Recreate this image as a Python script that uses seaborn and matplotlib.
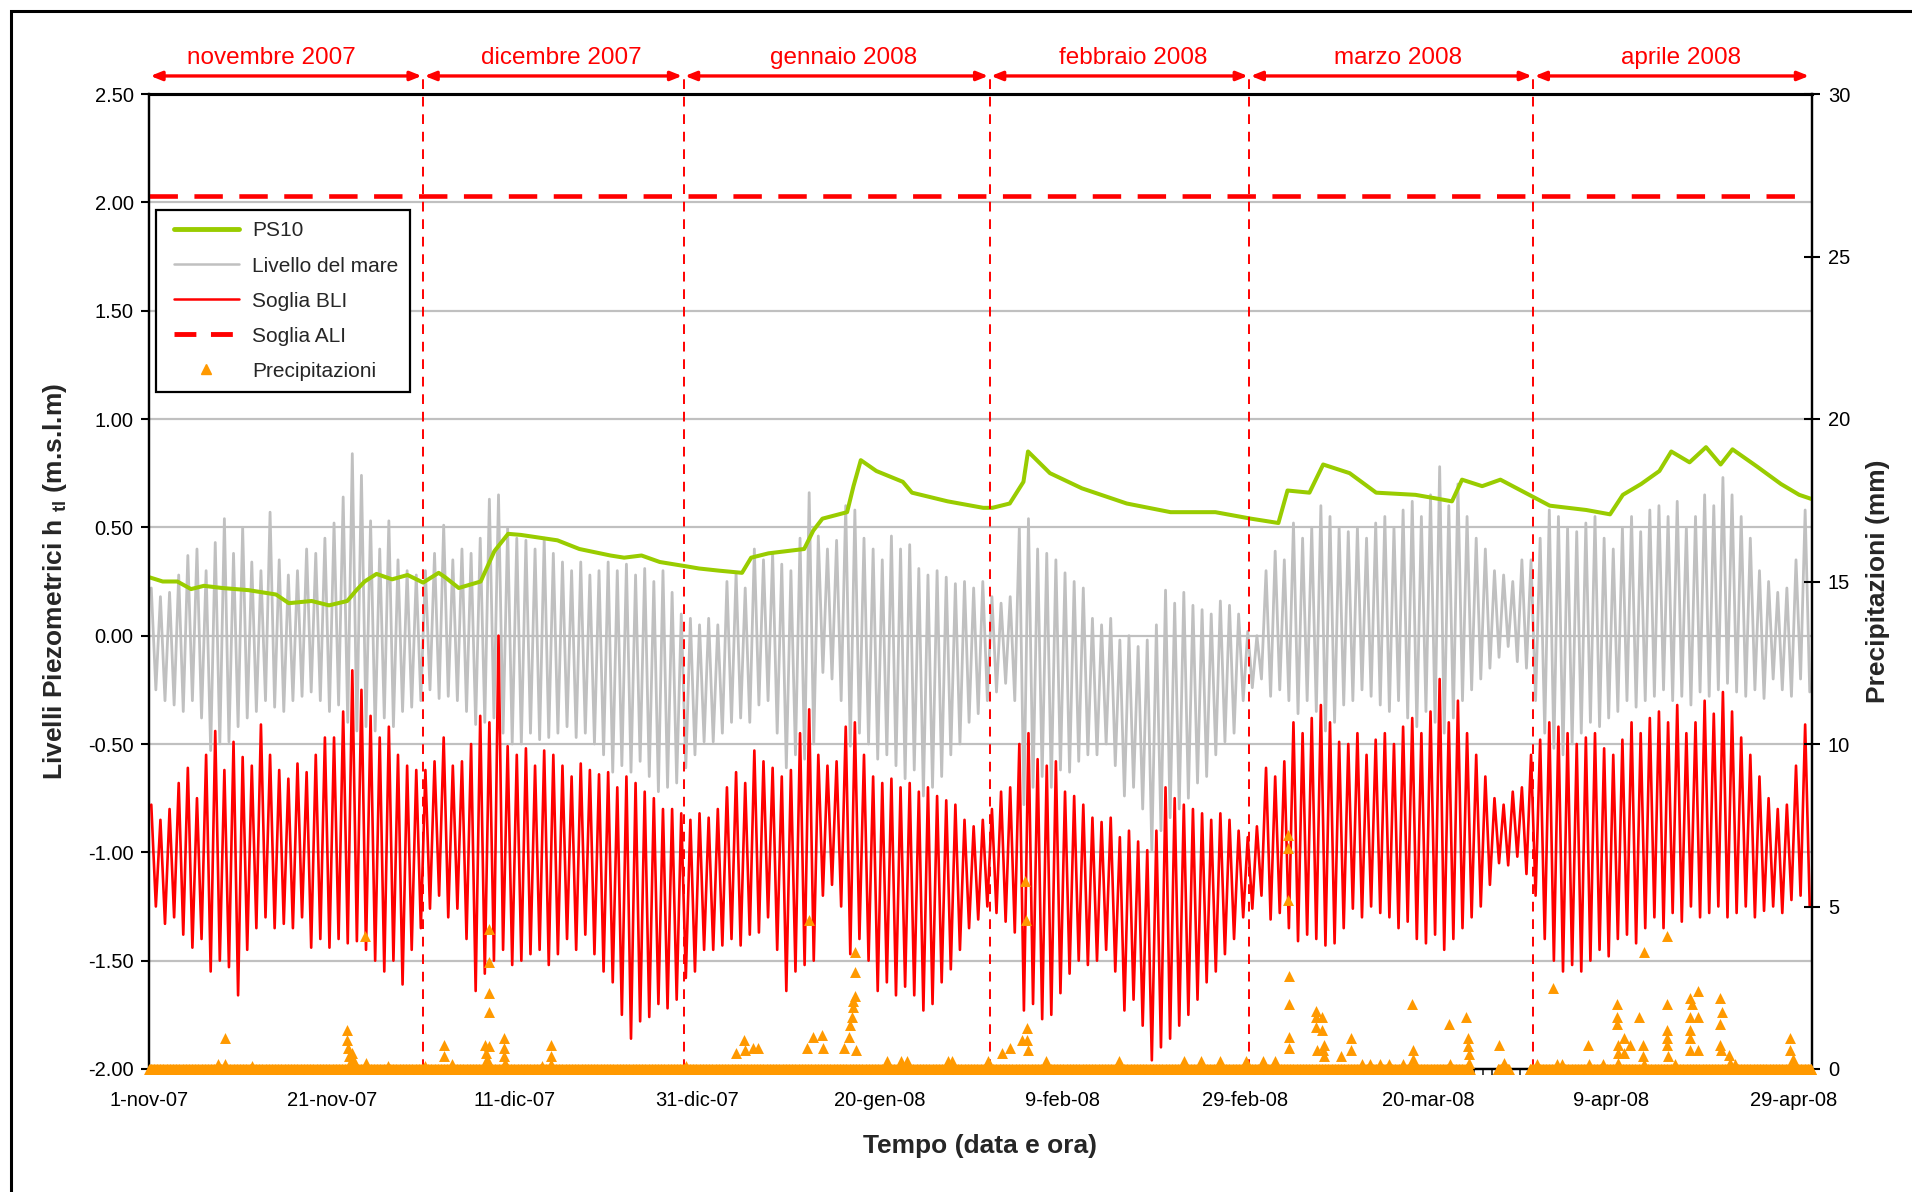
import numpy as np
import pandas as pd
import matplotlib
matplotlib.use("Agg")
import matplotlib.pyplot as plt
import matplotlib.dates as mdates
import seaborn as sns
from matplotlib.lines import Line2D
from matplotlib.legend_handler import HandlerLine2D
from matplotlib.patches import Rectangle

# ---------------- data ----------------
START = "2007-11-01"
END_DAYS = 182  # axis spans 1-nov-07 .. 1-may-08

tick_dates = ["2007-11-01", "2007-11-21", "2007-12-11", "2007-12-31", "2008-01-20",
              "2008-02-09", "2008-02-29", "2008-03-20", "2008-04-09", "2008-04-29"]
tick_labels = ["1-nov-07", "21-nov-07", "11-dic-07", "31-dic-07", "20-gen-08",
               "9-feb-08", "29-feb-08", "20-mar-08", "9-apr-08", "29-apr-08"]

month_names = ["novembre 2007", "dicembre 2007", "gennaio 2008",
               "febbraio 2008", "marzo 2008", "aprile 2008"]
# month separators as drawn on the chart
month_bounds = ["2007-11-01 00:00", "2007-12-01 00:00", "2007-12-29 12:00", "2008-02-01 00:00",
                "2008-02-29 10:00", "2008-03-31 12:00", "2008-04-30 20:00"]
# where each month name is centred (day since 1-nov-07)
month_label_days = [13.4, 45.1, 76.0, 107.7, 136.7, 167.7]

soglia_ali = 2.03

# PS10 piezometric level: (day since 1-nov-07, m s.l.m.)
ps10_day = [0, 1.5, 3.1, 4.6, 6, 8, 10.9, 13.9, 15.3, 17.8, 19.7, 21.7, 22.7, 23.6, 24.9,
            26.6, 28.3, 30, 31.7, 32.4, 33.9, 36.3, 37.8, 39.3, 40.7, 44.7, 47.1, 50.5, 52,
            53.9, 55.9, 58.8, 60.2, 62.4, 64.9, 65.9, 67.8, 71.7, 72.7, 73.7, 76.4, 77.1,
            77.9, 79.6, 82.5, 83.5, 87.4, 91.3, 92.3, 94.2, 95.7, 96.2, 98.6, 102.1, 107,
            111.8, 116.7, 120.6, 123.6, 124.6, 127, 128.5, 131.4, 134.3, 138.6, 141.3,
            142.6, 143.7, 145.9, 147.9, 150.6, 153.3, 157.3, 159.9, 161.3, 163.3, 165.3,
            166.6, 168.6, 170.4, 172, 173.3, 176, 178.6, 180.6, 182]
ps10_val = [0.27, 0.25, 0.25, 0.215, 0.23, 0.22, 0.21, 0.19, 0.15, 0.16, 0.14, 0.16, 0.21,
            0.25, 0.285, 0.26, 0.28, 0.245, 0.29, 0.27, 0.22, 0.25, 0.39, 0.47, 0.465, 0.44,
            0.40, 0.37, 0.36, 0.37, 0.34, 0.32, 0.31, 0.30, 0.29, 0.36, 0.38, 0.40, 0.485,
            0.54, 0.57, 0.69, 0.81, 0.76, 0.71, 0.66, 0.62, 0.59, 0.59, 0.61, 0.71, 0.85,
            0.75, 0.68, 0.61, 0.57, 0.57, 0.54, 0.52, 0.67, 0.66, 0.79, 0.75, 0.66, 0.65,
            0.63, 0.62, 0.72, 0.69, 0.72, 0.66, 0.60, 0.58, 0.56, 0.65, 0.70, 0.76, 0.85,
            0.80, 0.87, 0.79, 0.86, 0.78, 0.70, 0.65, 0.63]

# Sea level: daily high / low (cm), one value per day from 1-nov-07
sea_hi_cm = [22, 18, 20, 28, 37, 40, 30, 43, 54, 38, 50, 34, 30, 57, 35, 28, 30, 40, 38, 45,
             52, 64, 84, 74, 53, 40, 53, 35, 30, 28,
             30, 38, 51, 35, 40, 38, 45, 63, 65, 50, 45, 44, 40, 45, 38, 34, 30, 34, 28, 30,
             34, 30, 33, 28, 31, 25, 30, 20, 10, 8, 5,
             8, 5, 25, 29, 22, 40, 35, 38, 33, 30, 45, 66, 46, 40, 44, 60, 58, 45, 40, 35,
             46, 40, 42, 31, 28, 30, 27, 24, 25, 22, 25,
             18, 15, 18, 50, 54, 40, 38, 35, 29, 25, 22, 8, 5, 8, -2, 0, -5, -2, 5, 21,
             15, 20, 14, 12, 10, 16, 14, 10, 2,
             0, 30, 39, 35, 52, 45, 50, 60, 55, 50, 48, 50, 45, 52, 55, 50, 58, 62, 55, 65,
             78, 60, 70, 55, 45, 40, 30, 28, 25, 35, 35,
             45, 58, 55, 50, 48, 52, 55, 45, 40, 50, 55, 48, 58, 60, 55, 62, 50, 55, 65, 60,
             73, 65, 55, 45, 30, 25, 20, 22, 35, 58]
sea_lo_cm = [-25, -30, -32, -35, -30, -38, -53, -50, -49, -42, -38, -35, -30, -33, -35, -30,
             -28, -26, -30, -35, -32, -40, -44, -42, -44, -38, -42, -35, -33, -30,
             -25, -29, -28, -30, -35, -41, -40, -38, -45, -50, -50, -45, -48, -47, -45, -42,
             -47, -45, -50, -55, -63, -60, -63, -58, -65, -72, -70, -68, -61, -55, -49,
             -49, -45, -40, -38, -40, -32, -30, -45, -61, -55, -57, -50, -17, -20, -30, -51,
             -45, -50, -57, -55, -60, -66, -62, -74, -70, -65, -55, -50, -40, -36, -30,
             -26, -22, -30, -78, -70, -65, -70, -62, -63, -58, -55, -55, -50, -60, -74, -70,
             -80, -99, -90, -84, -80, -75, -68, -65, -55, -49, -45, -30, -24,
             -20, -28, -25, -30, -36, -30, -35, -44, -40, -32, -30, -25, -28, -32, -35, -30,
             -38, -42, -35, -40, -45, -38, -30, -25, -20, -15, -10, -5, -12, -15, -30,
             -45, -52, -55, -50, -45, -40, -42, -38, -35, -30, -33, -30, -28, -25, -30, -28,
             -32, -26, -28, -25, -22, -26, -28, -25, -29, -20, -25, -28, -20, -26]

# Soglia BLI: daily high / low (cm)
bli_hi_cm = [-78, -85, -80, -68, -61, -75, -55, -44, -62, -49, -56, -60, -41, -55, -62, -66,
             -59, -63, -55, -47, -47, -35, -16, -25, -37, -47, -42, -55, -60, -62,
             -62, -58, -47, -60, -58, -50, -37, -40, 0, -51, -55, -52, -60, -53, -55, -60,
             -65, -59, -62, -64, -63, -70, -65, -68, -72, -75, -80, -80, -82, -85, -82,
             -84, -80, -70, -63, -68, -53, -58, -61, -65, -62, -45, -34, -55, -60, -58, -42,
             -40, -55, -65, -68, -66, -70, -68, -72, -70, -74, -76, -78, -85, -88, -85,
             -80, -72, -70, -50, -45, -57, -60, -58, -72, -74, -78, -84, -86, -84, -93, -90,
             -95, -99, -90, -70, -75, -78, -80, -82, -85, -82, -85, -90, -93,
             -88, -61, -65, -58, -40, -45, -38, -32, -40, -49, -50, -45, -55, -48, -45, -50,
             -42, -38, -45, -35, -20, -40, -30, -45, -55, -65, -75, -78, -72, -70, -55,
             -48, -40, -42, -45, -50, -47, -45, -52, -55, -48, -40, -45, -38, -35, -40, -32,
             -45, -40, -30, -36, -26, -35, -47, -55, -65, -75, -80, -78, -60, -41]
bli_lo_cm = [-125, -133, -130, -138, -144, -140, -155, -150, -153, -166, -145, -135, -130,
             -135, -133, -135, -130, -144, -140, -144, -140, -142, -141, -145, -150, -155,
             -150, -161, -145, -135,
             -126, -120, -130, -126, -140, -164, -156, -150, -145, -152, -150, -147, -145,
             -152, -147, -140, -145, -138, -147, -155, -160, -175, -186, -178, -176, -170,
             -172, -168, -158, -155, -145,
             -145, -143, -140, -143, -138, -137, -130, -145, -164, -155, -152, -150, -120,
             -115, -125, -147, -140, -150, -164, -160, -166, -162, -166, -173, -170, -160,
             -154, -145, -135, -131, -125,
             -128, -132, -137, -173, -170, -177, -175, -165, -156, -150, -152, -150, -145,
             -155, -173, -168, -180, -196, -190, -186, -180, -175, -168, -160, -155, -147,
             -140, -130, -126,
             -120, -131, -128, -135, -141, -138, -140, -143, -142, -135, -126, -130, -125,
             -128, -130, -135, -132, -140, -142, -138, -145, -140, -135, -130, -125, -115,
             -105, -106, -102, -110, -120,
             -140, -150, -155, -152, -155, -150, -145, -148, -140, -138, -142, -135, -130,
             -135, -128, -132, -125, -130, -128, -125, -130, -128, -125, -130, -127, -125,
             -128, -122, -120, -125]

# Precipitation (mm): non-zero readings (day since 1-nov-07, mm)
rain_day = [7.5, 8.3, 8.3, 11.3, 21.7, 21.7, 21.8, 21.9, 22.0, 22.2, 22.3, 23.6, 23.7, 26.2,
            30.2, 32.3, 32.3, 33.2, 36.8, 36.9, 37.0, 37.2, 37.2, 37.2, 37.2, 37.2, 38.8,
            38.8, 38.9, 39.0, 43.0, 44.0, 44.0, 44.0, 58.8,
            64.2, 65.1, 65.2, 66.1, 66.6, 72.0, 72.2, 72.7, 73.7, 73.8, 76.1, 76.6, 76.7,
            76.9, 77.0, 77.1, 77.3, 77.3, 77.3, 77.4, 80.8, 82.3, 83.0, 87.4, 87.9, 91.8,
            93.3, 94.2, 95.5, 95.9, 95.95, 96.1, 96.1, 96.2, 98.2, 106.2, 113.3, 115.1,
            117.2, 120.1, 121.9, 123.2, 124.6, 124.6, 124.6, 124.8, 124.8, 124.8, 124.8,
            127.7, 127.7, 127.7, 127.8, 128.4, 128.4, 128.5, 128.6, 128.6, 130.5, 131.6,
            131.6, 132.7, 133.6, 134.7, 135.7, 137.2, 138.2, 138.3, 138.3, 142.3, 142.4,
            144.1, 144.4, 144.4, 144.5, 144.5, 147.7, 148.3, 151.9, 153.7, 154.1, 154.6,
            157.5, 157.6, 159.1, 160.7, 160.7, 160.7, 160.8, 160.8, 160.8, 161.4, 161.4,
            162.1, 163.1, 163.6, 163.5, 163.5, 163.6, 166.1, 166.1, 166.1, 166.1, 166.1,
            166.2, 167.0, 168.6, 168.6, 168.6, 168.6, 168.7, 168.9, 169.5, 169.5, 169.5,
            171.9, 171.9, 171.9, 172.0, 172.1, 172.9, 173.0, 173.6, 179.6, 179.6, 179.9]
rain_mm = [0.15, 0.95, 0.15, 0.1, 1.2, 0.9, 0.65, 0.4, 0.2, 0.5, 0.3, 4.1, 0.2, 0.1,
           0.1, 0.75, 0.4, 0.15, 0.75, 0.5, 0.3, 4.3, 3.3, 2.35, 1.75, 0.7, 0.95,
           0.65, 0.4, 0.2, 0.1, 0.75, 0.4, 0.15, 0.1,
           0.5, 0.9, 0.6, 0.65, 0.65, 0.65, 4.6, 1.0, 1.05, 0.65, 0.65, 1.0, 1.35,
           1.6, 1.9, 2.1, 2.25, 3.0, 3.6, 0.6, 0.25, 0.25, 0.25, 0.25, 0.25, 0.25,
           0.5, 0.65, 0.9, 5.8, 4.6, 1.25, 0.9, 0.6, 0.25, 0.25, 0.25, 0.25,
           0.25, 0.25, 0.25, 0.25, 7.2, 6.8, 5.2, 2.85, 2.0, 1.0, 0.65,
           1.8, 1.6, 1.3, 0.6, 1.6, 1.2, 0.6, 0.75, 0.4, 0.4, 0.96,
           0.6, 0.15, 0.15, 0.15, 0.15, 0.15, 2.0, 0.6, 0.3, 1.4, 0.15,
           1.6, 0.96, 0.7, 0.45, 0.2, 0.75, 0.2, 0.15, 2.5, 0.15, 0.15,
           0.75, 0.15, 0.15, 2.0, 1.6, 1.4, 0.75, 0.5, 0.2, 0.96, 0.5,
           0.75, 1.6, 3.6, 0.75, 0.4, 0.15, 4.1, 2.0, 1.2, 0.96, 0.75,
           0.4, 0.15, 2.2, 1.6, 1.2, 0.96, 0.6, 2.0, 2.4, 1.6, 0.6,
           2.2, 1.4, 0.75, 0.6, 1.76, 0.44, 0.2, 0.15, 0.96, 0.6, 0.3]
# periods (days) in which the rain gauge recorded 0 mm every hour
rain_zero_periods = [(0.0, 144.6), (147.6, 148.9), (151.1, 182.0)]

# ---------------- helpers ----------------
t0 = pd.Timestamp(START)


def to_time(days):
    return t0 + pd.to_timedelta(np.asarray(days, dtype=float), unit="D")


def daily_swing(hi_cm, lo_cm):
    n = min(len(hi_cm), len(lo_cm))
    d = np.arange(n, dtype=float)
    days = np.column_stack([d + 0.25, d + 0.75]).ravel()
    vals = np.column_stack([np.asarray(hi_cm[:n]), np.asarray(lo_cm[:n])]).ravel() / 100.0
    return pd.DataFrame({"t": to_time(days), "v": vals})


sea_df = daily_swing(sea_hi_cm, sea_lo_cm)
bli_df = daily_swing(bli_hi_cm, bli_lo_cm)
ps10_df = pd.DataFrame({"t": to_time(ps10_day), "v": ps10_val})

nr = min(len(rain_day), len(rain_mm))
zero_days = np.concatenate([np.arange(a, b, 1 / 12.0) for a, b in rain_zero_periods])
rain_df = pd.DataFrame({"t": to_time(np.concatenate([zero_days, rain_day[:nr]])),
                        "mm": np.concatenate([np.zeros(len(zero_days)), rain_mm[:nr]])})

# ---------------- style ----------------
sns.set_theme(style="white")
plt.rcParams["font.family"] = ["Liberation Sans", "DejaVu Sans"]
plt.rcParams["mathtext.fontset"] = "custom"
plt.rcParams["mathtext.rm"] = "Liberation Sans"
plt.rcParams["mathtext.bf"] = "Liberation Sans:bold"
plt.rcParams["axes.unicode_minus"] = False

GREEN = "#99CC00"
GREY = "#C0C0C0"
RED = "#FF0000"
ORANGE = "#FF9900"

W, H = 1912, 1192
fig = plt.figure(figsize=(W / 100, H / 100), dpi=100)
ax = fig.add_axes([149 / W, 1 - 1069 / H, (1812 - 149) / W, (1069 - 94) / H])

# figure frame
fig.patches.append(Rectangle((11 / W, -0.05), 1.2, 1 - 11 / H + 0.05, transform=fig.transFigure,
                             fill=False, edgecolor="black", linewidth=2.2, zorder=0))

# series
sns.lineplot(data=sea_df, x="t", y="v", ax=ax, color=GREY, linewidth=2.0,
             estimator=None, sort=False, zorder=2)
sns.lineplot(data=ps10_df, x="t", y="v", ax=ax, color=GREEN, linewidth=2.9,
             estimator=None, sort=False, zorder=3)
sns.lineplot(data=bli_df, x="t", y="v", ax=ax, color=RED, linewidth=1.9,
             estimator=None, sort=False, zorder=4)
ax.axhline(soglia_ali, color=RED, linewidth=3.3, dashes=(6.2, 3.6), zorder=5)

ax.set_xlim(t0, t0 + pd.Timedelta(days=END_DAYS))
ax.set_ylim(-2.0, 2.5)
ax.set_yticks(np.arange(-2.0, 2.51, 0.5))
ax.yaxis.set_major_formatter(matplotlib.ticker.FormatStrFormatter("%.2f"))
ax.yaxis.grid(True, color=GREY, linewidth=1.6)
ax.set_axisbelow(True)

ax.set_xticks(pd.to_datetime(tick_dates))
ax.set_xticklabels(tick_labels)
ax.xaxis.set_minor_locator(mdates.DayLocator())
ax.tick_params(axis="x", which="major", direction="out", length=7, width=1.5,
               labelsize=14.5, pad=9, colors="black")
ax.tick_params(axis="x", which="minor", direction="out", length=4, width=1.2, bottom=True)
ax.tick_params(axis="y", direction="out", length=6, width=1.5, labelsize=14.5, pad=5,
               left=True, colors="black")
for s in ax.spines.values():
    s.set_color("black")
    s.set_linewidth(1.6)
ax.spines["top"].set_linewidth(2.2)
ax.set_xlabel("")
ax.set_ylabel("")

# month separators, arrows and names
bounds = mdates.date2num(pd.to_datetime(month_bounds, format="%Y-%m-%d %H:%M"))
label_x = mdates.date2num(to_time(month_label_days))
xtr = ax.get_xaxis_transform()
for b in bounds[1:-1]:
    ax.plot([b, b], [0, 1.0185], transform=xtr, color=RED, linewidth=1.4,
            dashes=(5, 4), clip_on=False, zorder=6)
for i, name in enumerate(month_names):
    a, b = float(bounds[i]), float(bounds[i + 1])
    ax.annotate("", xy=(b, 1.0185), xytext=(a, 1.0185), xycoords=xtr, textcoords=xtr,
                arrowprops=dict(arrowstyle="<|-|>,head_length=0.55,head_width=0.22",
                                color=RED, lw=2.4, shrinkA=1, shrinkB=1),
                annotation_clip=False)
    ax.text(float(label_x[i]), 1.026, name, transform=xtr, ha="center", va="bottom",
            color=RED, fontsize=17.5)

# secondary axis: precipitation
ax2 = ax.twinx()
sns.scatterplot(data=rain_df, x="t", y="mm", ax=ax2, marker="^", s=62, color=ORANGE,
                linewidth=0, clip_on=False, zorder=7)
ax2.set_ylim(0, 30)
ax2.set_yticks(np.arange(0, 31, 5))
ax2.tick_params(axis="y", direction="inout", length=11, width=1.5, labelsize=14.5,
                pad=6, right=True, colors="black")
ax2.set_xlim(t0, t0 + pd.Timedelta(days=END_DAYS))
ax2.set_ylabel("")
ax2.set_xlabel("")
for s in ax2.spines.values():
    s.set_color("black")
    s.set_linewidth(1.6)
ax2.spines["top"].set_linewidth(2.2)

# axis titles
fig.text(55 / W, 1 - 581 / H, r"Livelli Piezometrici h $_{\mathbf{tl}}$ (m.s.l.m)",
         rotation=90, ha="center", va="center", fontsize=19, fontweight="bold")
fig.text(1878 / W, 1 - 581 / H, "Precipitazioni (mm)", rotation=90, ha="center",
         va="center", fontsize=19, fontweight="bold")
fig.text(980 / W, 1 - 1146 / H, "Tempo (data e ora)", ha="center", va="center",
         fontsize=19, fontweight="bold")

# legend
handles = [
    Line2D([], [], color=GREEN, lw=3.5),
    Line2D([], [], color=GREY, lw=1.8),
    Line2D([], [], color=RED, lw=1.8),
    Line2D([], [], color=RED, lw=3.5, dashes=(4.5, 3)),
    Line2D([], [], color=ORANGE, marker="^", linestyle="none", markersize=7),
]
labels = ["PS10", "Livello del mare", "Soglia BLI", "Soglia ALI", "Precipitazioni"]
leg = ax2.legend(handles, labels, loc="upper left", bbox_to_anchor=(0.004, 0.881),
                 frameon=True, fancybox=False, fontsize=15, handlelength=3.44,
                 handletextpad=0.63, labelspacing=0.77, borderpad=0.55,
                 borderaxespad=0.0, handler_map={Line2D: HandlerLine2D(xpad=0.31)})
leg.get_frame().set_edgecolor("black")
leg.get_frame().set_linewidth(1.6)
leg.get_frame().set_facecolor("white")
leg.get_frame().set_alpha(1)
leg.set_zorder(20)

fig.savefig("out.png", dpi=100)
